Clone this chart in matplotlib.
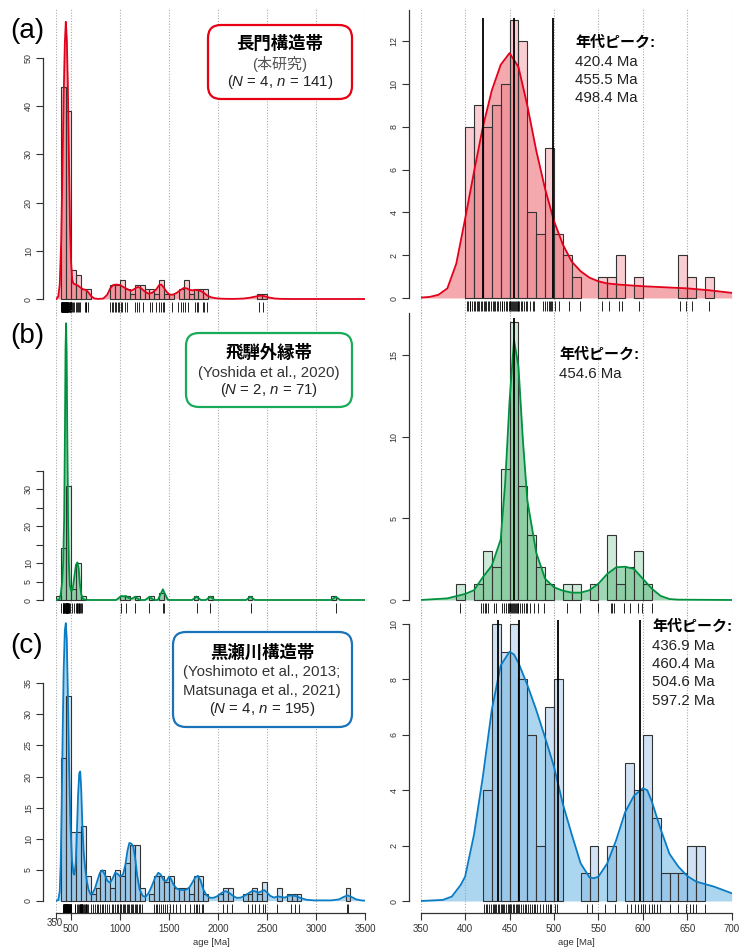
import matplotlib.pyplot as plt
import matplotlib.colors as mcolors
import matplotlib.transforms as mtransforms
from matplotlib.patches import FancyBboxPatch

plt.rcParams['font.family'] = ['Liberation Sans', 'Noto Sans CJK JP']
plt.rcParams['mathtext.fontset'] = 'custom'
plt.rcParams['mathtext.rm'] = 'Liberation Sans'
plt.rcParams['mathtext.it'] = 'Liberation Sans:italic'

# ---------------- data ----------------
# (a) Nagato tectonic zone
a_fine_starts = [400, 410, 420, 430, 440, 450, 460, 470, 480, 490, 500, 510, 520,
                 550, 560, 570, 590, 640, 650, 670]
a_fine_counts = [8, 9, 8, 9, 10, 13, 12, 4, 3, 7, 3, 2, 1, 1, 1, 2, 1, 2, 1, 1]
a_coarse_starts = [400, 450, 500, 550, 600, 650, 900, 950, 1000, 1050, 1100, 1150, 1200,
                   1250, 1300, 1350, 1400, 1450, 1500, 1600, 1650, 1700, 1750, 1800,
                   1850, 2400, 2450]
a_coarse_counts = [44, 39, 6, 5, 2, 2, 3, 3, 4, 2, 1, 3, 3, 2, 2, 1, 4, 1, 1, 2, 4, 1,
                   2, 2, 2, 1, 1]
a_kde_full_x = [350, 370, 385, 400, 412, 425, 437, 447, 457, 467, 478, 490, 500, 512, 525,
                545, 570, 600, 625, 650, 680, 710, 740, 780, 830, 870, 900, 930, 960,
                1000, 1040, 1080, 1110, 1140, 1180, 1210, 1250, 1290, 1330, 1370, 1400,
                1420, 1445, 1475, 1505, 1540, 1580, 1620, 1650, 1680, 1710, 1740, 1770,
                1800, 1830, 1860, 1890, 1930, 1980, 2050, 2150, 2250, 2320, 2380, 2430,
                2470, 2520, 2580, 2650, 2800, 3500]
a_kde_full_y = [0, 0.5, 3, 12, 26, 42, 53, 57.5, 54, 45, 30, 15, 8, 4, 3.2, 3.0, 2.8,
                2.3, 2.0, 1.9, 1.3, 0.5, 0.1, 0.02, 0.1, 0.9, 2.2, 2.9, 3.0, 2.9, 2.4,
                2.0, 1.7, 2.0, 2.5, 2.3, 1.6, 1.1, 1.3, 2.0, 2.9, 3.0, 2.4, 1.5, 0.9,
                0.9, 1.3, 1.9, 2.3, 2.2, 1.9, 1.8, 1.9, 1.8, 1.6, 1.2, 0.7, 0.35, 0.15,
                0.05, 0.02, 0.08, 0.25, 0.5, 0.7, 0.6, 0.3, 0.1, 0.02, 0, 0]
a_kde_zoom_x = [350, 360, 370, 380, 390, 400, 410, 420, 430, 440, 450, 460, 470, 480,
                490, 500, 510, 520, 530, 540, 550, 560, 575, 600, 625, 650, 675, 700]
a_kde_zoom_y = [0.02, 0.05, 0.15, 0.45, 1.6, 3.7, 5.9, 8.0, 9.7, 10.9, 11.45, 10.8, 9.0,
                6.9, 5.1, 3.6, 2.5, 1.7, 1.25, 0.95, 0.78, 0.68, 0.62, 0.55, 0.5, 0.45,
                0.36, 0.24]
a_ages = [402, 403, 405, 406, 408, 410, 411, 413, 414, 416, 418, 419, 421, 422, 424, 426,
          427, 429, 431, 432, 434, 436, 437, 439, 441, 442, 444, 446, 447, 449, 450, 451,
          452, 453, 454, 455, 456, 457, 458, 459, 460, 461, 463, 464, 466, 468, 470, 473,
          476, 477, 488, 490, 492, 494, 495, 497, 498, 501, 506, 517, 529, 554, 562, 573,
          577, 596, 642, 649, 655, 674, 898, 915, 932, 945, 958, 975, 990, 1007, 1025,
          1048, 1075, 1153, 1177, 1197, 1238, 1306, 1323, 1366, 1397, 1414, 1436, 1450,
          1528, 1596, 1620, 1640, 1664, 1688, 1766, 1783, 1800, 1844, 1858, 1885, 2421,
          2455]
a_peaks = [420.4, 455.5, 498.4]

# (b) Hida Gaien belt
b_fine_starts = [390, 410, 420, 430, 440, 450, 460, 470, 480, 490, 510, 520, 540, 560,
                 570, 580, 590, 600]
b_fine_counts = [1, 1, 3, 2, 8, 17, 7, 4, 2, 1, 1, 1, 1, 4, 1, 2, 3, 1]
b_coarse_starts = [350, 400, 450, 500, 550, 600, 1000, 1050, 1150, 1300, 1400, 1750,
                   1900, 2300, 3150]
b_coarse_counts = [1, 14, 31, 3, 10, 1, 1, 1, 1, 1, 2, 1, 1, 1, 1]
b_kde_full_x = [350, 380, 395, 410, 420, 430, 438, 444, 450, 455, 462, 470, 478, 488, 500,
                510, 520, 535, 550, 565, 578, 590, 605, 620, 640, 680,
                960, 990, 1010, 1035, 1060, 1085, 1110, 1130, 1155, 1180, 1205,
                1255, 1280, 1300, 1320, 1345,
                1385, 1410, 1437, 1462, 1490,
                1735, 1758, 1780, 1802, 1825,
                1875, 1898, 1920, 1942, 1965,
                2285, 2308, 2330, 2352, 2375,
                3155, 3178, 3200, 3222, 3245, 3500]
b_kde_full_y = [0, 0.2, 1.5, 5, 10, 22, 45, 68, 75, 68, 45, 22, 10, 4, 2.6, 2.6, 3.5,
                6.5, 9.5, 10.2, 8.5, 4.5, 1.5, 0.4, 0.1, 0,
                0, 0.6, 1.1, 1.0, 1.1, 0.6, 0.3, 0.5, 0.9, 0.4, 0,
                0, 0.45, 0.9, 0.45, 0,
                0, 1.4, 2.9, 1.4, 0,
                0, 0.45, 0.9, 0.45, 0,
                0, 0.45, 0.9, 0.45, 0,
                0, 0.45, 0.9, 0.45, 0,
                0, 0.45, 0.9, 0.45, 0, 0]
b_kde_zoom_x = [350, 380, 400, 410, 420, 430, 440, 445, 450, 455, 460, 465, 470, 480,
                490, 500, 510, 520, 530, 540, 550, 560, 570, 580, 590, 600, 610, 620,
                630, 640, 700]
b_kde_zoom_y = [0, 0.1, 0.37, 0.6, 1.4, 2.1, 3.7, 7.1, 12.2, 15.9, 14.3, 9.8, 6.1, 2.9,
                1.3, 0.78, 0.57, 0.45, 0.45, 0.6, 1.0, 1.6, 2.0, 2.04, 1.9, 1.3, 0.7,
                0.25, 0.06, 0.02, 0]
b_ages = [394, 418, 420, 422, 424, 426, 432, 435, 442, 444, 446, 448, 449, 450, 451, 452,
          453, 454, 455, 456, 457, 458, 459, 460, 462, 464, 466, 468, 470, 473, 477, 482,
          489, 515, 529, 550, 564, 565, 567, 579, 585, 595, 599, 610, 1011, 1062, 1154,
          1297, 1433, 1450, 1782, 1921, 2336, 3200]
b_peaks = [454.6]

# (c) Kurosegawa tectonic zone
c_fine_starts = [420, 430, 440, 450, 460, 470, 480, 490, 500, 530, 540, 560, 580, 590,
                 600, 610, 620, 630, 640, 650, 660]
c_fine_counts = [4, 10, 9, 10, 8, 6, 2, 7, 8, 1, 2, 2, 5, 4, 6, 3, 1, 1, 1, 2, 2]
c_coarse_starts = [400, 450, 500, 550, 600, 650, 700, 750, 800, 850, 900, 950, 1000,
                   1050, 1100, 1150, 1200, 1300, 1350, 1400, 1450, 1500, 1550, 1600,
                   1650, 1700, 1750, 1800, 1850, 2000, 2050, 2100, 2250, 2300, 2350,
                   2400, 2450, 2600, 2700, 2750, 2800, 3300]
c_coarse_counts = [23, 33, 11, 11, 12, 4, 1, 2, 5, 4, 2, 5, 4, 6, 9, 9, 2, 1, 4, 4, 3,
                   4, 2, 2, 2, 1, 4, 4, 1, 1, 2, 2, 1, 1, 2, 1, 3, 2, 1, 1, 1, 2]
c_kde_full_x = [350, 370, 385, 395, 405, 415, 425, 437, 447, 457, 468, 480, 495, 510, 525,
                535, 548, 560, 572, 584, 594, 604, 615, 628, 643, 660, 678, 700, 720,
                745, 770, 795, 820, 845, 870, 900, 925, 950, 975, 1000, 1030, 1055, 1075,
                1095, 1115, 1135, 1155, 1175, 1200, 1230, 1260, 1290, 1320, 1355, 1390,
                1415, 1445, 1475, 1500, 1520, 1545, 1575, 1600, 1640, 1680, 1710, 1740,
                1770, 1795, 1820, 1850, 1880, 1920, 1960, 2000, 2040, 2075, 2110, 2150,
                2190, 2230, 2270, 2310, 2350, 2380, 2410, 2440, 2470, 2495, 2530, 2570,
                2610, 2640, 2680, 2720, 2760, 2800, 2840, 2900, 2980, 3150, 3230, 3280,
                3320, 3360, 3410, 3460, 3500]
c_kde_full_y = [0, 0.1, 1.5, 6, 15, 27, 37, 43.5, 44.7, 42, 33, 22, 12, 6.5, 4.4, 4.2,
                6, 11, 17, 20.5, 20.8, 18, 12.5, 8, 5.5, 3.3, 1.8, 1.0, 1.2, 2.0, 3.3,
                4.5, 4.9, 4.2, 3.2, 2.9, 3.6, 4.5, 4.3, 3.9, 4.2, 5.8, 8.0, 9.3, 9.2,
                8.7, 6.8, 4.0, 1.8, 0.8, 0.6, 1.2, 2.2, 3.6, 4.5, 4.2, 3.3, 3.2, 3.9,
                3.5, 2.6, 2.0, 1.8, 1.7, 1.8, 2.2, 3.0, 3.8, 4.0, 3.3, 1.8, 0.9, 0.45,
                0.5, 0.8, 1.3, 1.55, 1.3, 0.8, 0.45, 0.5, 0.8, 1.2, 1.6, 1.5, 1.3, 1.5,
                1.7, 1.4, 0.8, 0.5, 0.7, 0.6, 0.5, 0.8, 0.85, 0.7, 0.45, 0.15, 0.05,
                0.05, 0.2, 0.6, 0.85, 0.6, 0.2, 0.05, 0]
c_kde_zoom_x = [350, 375, 385, 395, 400, 410, 420, 430, 440, 450, 455, 460, 470, 480,
                490, 500, 510, 520, 530, 540, 545, 550, 560, 570, 580, 590, 600, 605,
                610, 620, 630, 640, 650, 660, 680, 700]
c_kde_zoom_y = [0, 0.04, 0.16, 0.58, 0.88, 2.4, 4.5, 6.9, 8.5, 9.0, 8.9, 8.6, 7.8, 6.9,
                5.9, 4.85, 3.5, 2.4, 1.36, 0.85, 0.82, 0.88, 1.36, 2.2, 3.2, 3.8, 4.07,
                4.0, 3.6, 2.6, 1.7, 1.24, 0.9, 0.7, 0.52, 0.28]
c_ages = [421, 423, 425, 427, 429, 431, 432, 434, 435, 437, 438, 440, 441, 443, 444, 446,
          448, 449, 451, 452, 454, 455, 457, 458, 460, 461, 463, 465, 467, 469, 471, 473,
          475, 477, 479, 481, 484, 488, 491, 493, 495, 497, 501, 503, 537, 543, 557, 569,
          582, 587, 591, 595, 598, 600, 602, 607, 610, 613, 616, 619, 631, 640, 649, 653,
          656, 660, 670, 701, 721, 745, 762, 779, 796, 813, 830, 847, 864, 891, 915, 932,
          949, 966, 983, 1000, 1010, 1027, 1041, 1054, 1068, 1082, 1095, 1109, 1122, 1136,
          1150, 1163, 1177, 1191, 1204, 1221, 1348, 1368, 1381, 1398, 1415, 1435, 1459,
          1483, 1510, 1537, 1571, 1612, 1663, 1714, 1755, 1776, 1789, 1810, 1833, 1850,
          2049, 2095, 2146, 2300, 2344, 2378, 2422, 2456, 2480, 2599, 2742, 2780, 2820,
          3313, 3323]
c_peaks = [436.9, 460.4, 504.6, 597.2]

full_ticks = [350, 500, 1000, 1500, 2000, 2500, 3000, 3500]
zoom_ticks = [350, 400, 450, 500, 550, 600, 650, 700]

# ---------------- figure ----------------
W, H = 739, 947
fig = plt.figure(figsize=(W / 100, H / 100), dpi=100)
INK = '#333333'


def px_axes(x0, x1, y0, y1):
    return fig.add_axes([x0 / W, 1 - y1 / H, (x1 - x0) / W, (y1 - y0) / H])


def px_text(x, y, s, **kw):
    fig.text(x / W, 1 - y / H, s, **kw)


def style_axes(ax, xlim, zero, ppu, ytop, ybot, yticks, ylabels, spine_top, outward, grid):
    ax.set_xlim(*xlim)
    ax.set_ylim(-(ybot - zero) / ppu, (zero - ytop) / ppu)
    ax.patch.set_visible(False)
    for side in ('top', 'right', 'bottom'):
        ax.spines[side].set_visible(False)
    sp = ax.spines['left']
    sp.set_position(('outward', outward * 0.72))
    sp.set_bounds(0, spine_top)
    sp.set_color(INK)
    sp.set_linewidth(0.9)
    ax.set_yticks(yticks)
    ax.set_yticklabels(ylabels, rotation=90, va='center', fontsize=6.4, color=INK)
    ax.tick_params(axis='y', length=5, width=0.8, color=INK, pad=2.5)
    ax.set_xticks([])
    for g in grid:
        ax.axvline(g, color='#aaaaaa', lw=0.8, ls=(0, (1, 1.5)), zorder=0)


def draw_content(ax, starts, counts, width, kx, ky, ages, ppu, bar_c, kde_c, line_c):
    ax.fill_between(kx, 0, ky, color=kde_c, alpha=0.5, lw=0, zorder=2)
    ax.bar(starts, counts, width=width, align='edge',
           facecolor=mcolors.to_rgba(bar_c, 0.35), edgecolor=INK, linewidth=0.8, zorder=3)
    ax.plot(kx, ky, color=line_c, lw=1.3, zorder=4)
    ax.vlines(ages, -13 / ppu, -3 / ppu, color='black', lw=0.6, zorder=3)


def add_xaxis(ax, ticks, labels):
    sp = ax.spines['bottom']
    sp.set_visible(True)
    sp.set_bounds(ticks[0], ticks[-1])
    sp.set_color(INK)
    sp.set_linewidth(0.9)
    ax.set_xticks(ticks)
    ax.set_xticklabels(labels, fontsize=7, color=INK)
    ax.tick_params(axis='x', length=4.7, width=0.8, color=INK, pad=3)


rows = [
    dict(ytop=8, ybot=316,
         lz=299, lppu=4.82, lyt=[0, 10, 20, 30, 40, 50], lyl=['0', '10', '20', '30', '40', '50'], lspine=50,
         rz=298, rppu=21.39, ryt=[0, 2, 4, 6, 8, 10, 12], ryl=['0', '2', '4', '6', '8', '10', '12'], rspine=13.46,
         fs=a_coarse_starts, fc=a_coarse_counts, zs=a_fine_starts, zc=a_fine_counts,
         kfx=a_kde_full_x, kfy=a_kde_full_y, kzx=a_kde_zoom_x, kzy=a_kde_zoom_y,
         ages=a_ages, peaks=a_peaks, peak_top=13.1,
         bar='#ee707c', kde='#eb5561', line='#e2001a'),
    dict(ytop=310, ybot=616,
         lz=600, lppu=3.69, lyt=[0, 5, 10, 15, 20, 25, 30, 35], lyl=['0', '5', '10', '', '20', '', '30', ''], lspine=35,
         rz=600, rppu=16.33, ryt=[0, 5, 10, 15], ryl=['0', '5', '10', '15'], rspine=17.6,
         fs=b_coarse_starts, fc=b_coarse_counts, zs=b_fine_starts, zc=b_fine_counts,
         kfx=b_kde_full_x, kfy=b_kde_full_y, kzx=b_kde_zoom_x, kzy=b_kde_zoom_y,
         ages=b_ages, peaks=b_peaks, peak_top=17.27,
         bar='#70c08d', kde='#41af69', line='#00913f'),
    dict(ytop=612, ybot=913,
         lz=900.7, lppu=6.21, lyt=[0, 5, 10, 15, 20, 25, 30, 35],
         lyl=['0', '5', '10', '15', '20', '25', '30', '35'], lspine=35,
         rz=901, rppu=27.7, ryt=[0, 2, 4, 6, 8, 10], ryl=['0', '2', '4', '6', '8', '10'], rspine=10,
         fs=c_coarse_starts, fc=c_coarse_counts, zs=c_fine_starts, zc=c_fine_counts,
         kfx=c_kde_full_x, kfy=c_kde_full_y, kzx=c_kde_zoom_x, kzy=c_kde_zoom_y,
         ages=c_ages, peaks=c_peaks, peak_top=10.14,
         bar='#79acdd', kde='#5aaee0', line='#0a7cc4'),
]

axes = []
for r in rows:
    axl = px_axes(56.3, 365.2, r['ytop'], r['ybot'])
    style_axes(axl, (350, 3500), r['lz'], r['lppu'], r['ytop'], r['ybot'],
               r['lyt'], r['lyl'], r['lspine'], 13, full_ticks)
    draw_content(axl, r['fs'], r['fc'], 50, r['kfx'], r['kfy'], r['ages'], r['lppu'],
                 r['bar'], r['kde'], r['line'])

    axr = px_axes(420.7, 731.7, r['ytop'], r['ybot'])
    style_axes(axr, (350, 700), r['rz'], r['rppu'], r['ytop'], r['ybot'],
               r['ryt'], r['ryl'], r['rspine'], 12, zoom_ticks)
    draw_content(axr, r['zs'], r['zc'], 10, r['kzx'], r['kzy'], r['ages'], r['rppu'],
                 r['bar'], r['kde'], r['line'])
    axr.vlines(r['peaks'], 0, r['peak_top'], color='black', lw=1.3, zorder=5)
    axes.append((axl, axr))

# x axes on the bottom row only
add_xaxis(axes[2][0], full_ticks, [''] + [str(t) for t in full_ticks[1:]])
add_xaxis(axes[2][1], zoom_ticks, [str(t) for t in zoom_ticks])
px_text(55, 923, '350', fontsize=7, color=INK, ha='center', va='center')
px_text(211, 942, 'age [Ma]', fontsize=6.8, color=INK, ha='center', va='center')
px_text(576, 942, 'age [Ma]', fontsize=6.8, color=INK, ha='center', va='center')

# panel letters
for lab, y in [('(a)', 31), ('(b)', 336), ('(c)', 646)]:
    px_text(27, y, lab, fontsize=20, ha='center', va='center')

# rounded title boxes (pixel coordinates)
ident = mtransforms.IdentityTransform()
boxes = [(208, 25, 352, 99, '#e60012'), (186, 333, 352, 407, '#1aab5a'),
         (173, 632, 352, 727, '#1a72b8')]
for x0, y0, x1, y1, ec in boxes:
    fig.add_artist(FancyBboxPatch((x0, H - y1), x1 - x0, y1 - y0,
                                  boxstyle='round,pad=0,rounding_size=13',
                                  transform=ident, facecolor='white', edgecolor=ec, lw=1.6))

px_text(280, 43, '長門構造帯', fontsize=12.5, fontweight='bold', ha='center', va='center')
px_text(280, 64, '(本研究)', fontsize=10.8, color='#555555', ha='center', va='center')
px_text(280, 82, '($N$ = 4, $n$ = 141)', fontsize=10.8, color='#222222', ha='center', va='center')

px_text(269, 352, '飛騨外縁帯', fontsize=12.5, fontweight='bold', ha='center', va='center')
px_text(269, 373, '(Yoshida et al., 2020)', fontsize=10.8, color='#333333', ha='center', va='center')
px_text(269, 390, '($N$ = 2, $n$ = 71)', fontsize=10.8, color='#222222', ha='center', va='center')

px_text(262, 652, '黒瀬川構造帯', fontsize=12.5, fontweight='bold', ha='center', va='center')
px_text(262, 672, '(Yoshimoto et al., 2013;', fontsize=10.8, color='#333333', ha='center', va='center')
px_text(262, 691, 'Matsunaga et al., 2021)', fontsize=10.8, color='#333333', ha='center', va='center')
px_text(262, 709, '($N$ = 4, $n$ = 195)', fontsize=10.8, color='#222222', ha='center', va='center')

# peak age labels
for x, y, peaks in [(575, 43, a_peaks), (559, 355, b_peaks), (652, 627, c_peaks)]:
    px_text(x, y, '年代ピーク:', fontsize=10.8, fontweight='bold', ha='left', va='center')
    for i, p in enumerate(peaks):
        px_text(x, y + 19 + 18.2 * i, f'{p:.1f} Ma', fontsize=10.8, color='#222222',
                ha='left', va='center')

fig.savefig('out.png', dpi=100)
